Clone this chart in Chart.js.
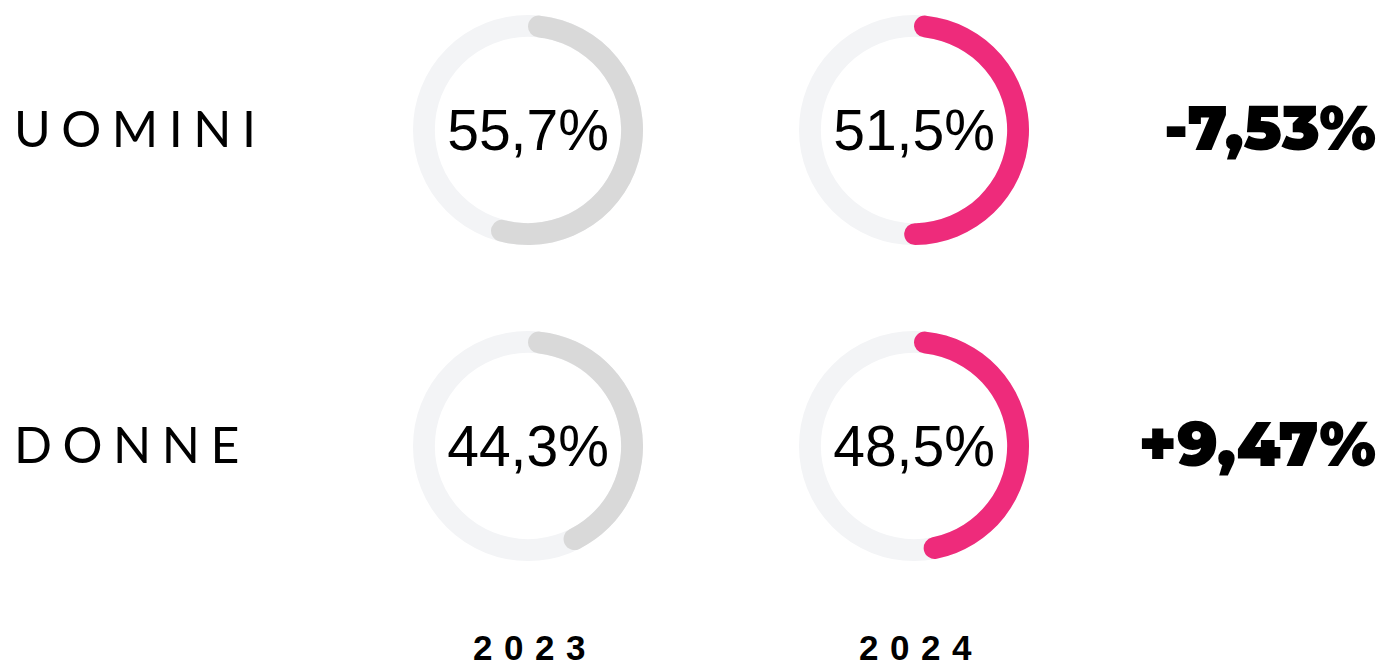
<!DOCTYPE html>
<html>
<head>
<meta charset="utf-8">
<script src="https://cdn.jsdelivr.net/npm/chart.js@4/dist/chart.umd.min.js"></script>
<style>
  html, body { margin: 0; padding: 0; background: #ffffff; }
  body { width: 1384px; height: 663px; position: relative; overflow: hidden; }
  .box { position: absolute; width: 230px; height: 230px; }
  .center { position: absolute; width: 230px; height: 230px; display: flex; align-items: center; justify-content: center;
            font-family: "Liberation Sans", Arial, sans-serif; font-size: 57px; color: #000; pointer-events: none; }
  .rowlabel { position: absolute; left: 14px; font-family: Lato, "Open Sans", sans-serif; font-weight: 400; font-size: 50px;
              letter-spacing: 0.21em; color: #000; line-height: 1; }
  .delta { position: absolute; right: 8px; font-family: Montserrat, Lato, "Open Sans", sans-serif; font-weight: 900; font-size: 62px;
           color: #000; line-height: 1; letter-spacing: 0; }
  .year { position: absolute; top: 630px; width: 240px; text-align: center; font-family: "Liberation Sans", Arial, sans-serif;
          font-weight: bold; font-size: 35px; letter-spacing: 0.33em; color: #000; line-height: 1; }
</style>
</head>
<body>
<script>
// ---- data ----
const groups = ["UOMINI", "DONNE"];
const years = ["2023", "2024"];
const values2023 = [55.7, 44.3];
const values2024 = [51.5, 48.5];
const changes = ["-7,53%", "+9,47%"];
const yearColors = ["#d9d9d9", "#ee2b7b"];
const trackColor = "#f3f4f6";

const fmt = v => v.toFixed(1).replace(".", ",") + "%";

const trackPlugin = {
  id: "track",
  beforeDatasetsDraw(chart) {
    const el = chart.getDatasetMeta(0).data[0];
    if (!el) return;
    const { x, y, innerRadius, outerRadius } = el.getProps(["x", "y", "innerRadius", "outerRadius"], true);
    const ctx = chart.ctx;
    ctx.save();
    ctx.beginPath();
    ctx.arc(x, y, (innerRadius + outerRadius) / 2, 0, Math.PI * 2);
    ctx.lineWidth = outerRadius - innerRadius;
    ctx.strokeStyle = trackColor;
    ctx.stroke();
    ctx.restore();
  }
};

const centersX = [528, 914];
const centersY = [130, 446];
const R = 115;

function makeGauge(cx, cy, value, color) {
  const box = document.createElement("div");
  box.className = "box";
  box.style.left = (cx - R) + "px";
  box.style.top = (cy - R) + "px";
  const canvas = document.createElement("canvas");
  box.appendChild(canvas);
  document.body.appendChild(box);
  const label = document.createElement("div");
  label.className = "center";
  label.style.left = (cx - R) + "px";
  label.style.top = (cy - R) + "px";
  label.textContent = fmt(value);
  document.body.appendChild(label);
  new Chart(canvas, {
    type: "doughnut",
    data: {
      labels: ["value", "rest"],
      datasets: [{
        data: [value, 100 - value],
        backgroundColor: [color, "rgba(0,0,0,0)"],
        borderWidth: 0,
        borderRadius: ctx => ctx.dataIndex === 0 ? 11 : 0
      }]
    },
    options: {
      responsive: true,
      maintainAspectRatio: false,
      animation: false,
      cutout: "81%",
      layout: { padding: 0 },
      events: [],
      plugins: { legend: { display: false }, tooltip: { enabled: false } }
    },
    plugins: [trackPlugin]
  });
}

groups.forEach((g, i) => {
  makeGauge(centersX[0], centersY[i], values2023[i], yearColors[0]);
  makeGauge(centersX[1], centersY[i], values2024[i], yearColors[1]);

  const lab = document.createElement("div");
  lab.className = "rowlabel";
  lab.textContent = g;
  lab.style.top = (centersY[i] - 27) + "px";
  document.body.appendChild(lab);

  const d = document.createElement("div");
  d.className = "delta";
  d.textContent = changes[i];
  d.style.top = (centersY[i] - 33) + "px";
  document.body.appendChild(d);
});

years.forEach((y, j) => {
  const el = document.createElement("div");
  el.className = "year";
  el.textContent = y;
  el.style.left = (centersX[j] - 120 + 7) + "px";
  document.body.appendChild(el);
});
</script>
</body>
</html>
